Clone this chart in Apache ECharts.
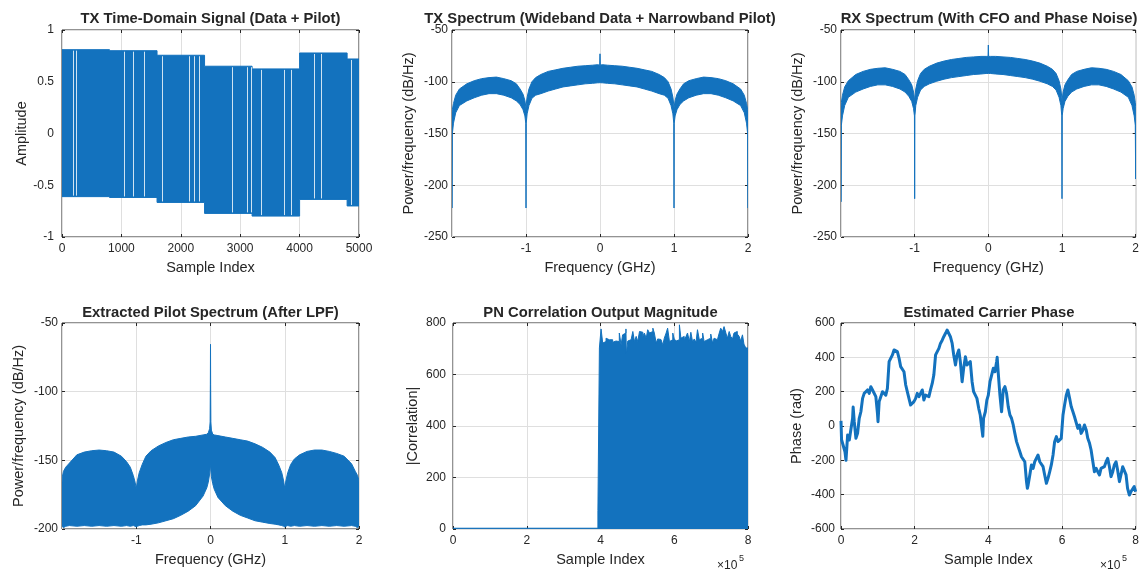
<!DOCTYPE html>
<html>
<head>
<meta charset="utf-8">
<script src="https://cdn.jsdelivr.net/npm/echarts@6/dist/echarts.min.js"></script>
<style>html,body{margin:0;padding:0;background:#fff}#chart{width:1142px;height:569px}</style>
</head>
<body>
<div id="chart"></div>
<script>
const BLUE = '#1372BE';
const INK = '#262626';
const GRIDC = '#dfdfdf';
const FONT = 'Liberation Sans, Arial, Helvetica, sans-serif';

// --- TX time-domain: per-symbol envelope (800-sample steps) ---
const txEdges = [0, 800, 1600, 2400, 3200, 4000, 4800, 5000];
const txTop = [0.81, 0.80, 0.756, 0.65, 0.624, 0.778, 0.72];
const txBottom = [-0.61, -0.618, -0.666, -0.772, -0.798, -0.637, -0.70];
const txGaps = [186, 242, 1046, 1198, 1378, 1682, 2132, 2227, 2306, 2857, 3121, 3183, 3352, 3740, 3853, 4246, 4364, 4871];

// --- TX / RX spectra envelopes (GHz, dB/Hz) ---
const specFreq = [-2, -1.995, -1.98, -1.95, -1.9, -1.8, -1.7, -1.6, -1.5, -1.4, -1.3, -1.2, -1.13, -1.08, -1.04, -1.015, -1.003, -1, -0.997, -0.985, -0.96, -0.92, -0.87, -0.8, -0.7, -0.6, -0.5, -0.4, -0.3, -0.2, -0.1, -0.03, -0.004,
  0, 0.004, 0.03, 0.1, 0.2, 0.3, 0.4, 0.5, 0.6, 0.7, 0.8, 0.87, 0.92, 0.96, 0.985, 0.997, 1, 1.003, 1.015, 1.04, 1.08, 1.13, 1.2, 1.3, 1.4, 1.5, 1.6, 1.7, 1.8, 1.9, 1.95, 1.98, 1.995, 2];
const txUpper = [-130, -127, -121, -113, -107, -102, -99, -97, -96, -95.5, -97, -99, -102, -107, -112, -118, -124, -126, -122, -115, -107, -100, -96, -93, -90, -88.5, -87, -86, -85, -84.5, -84, -83.5, -84,
  -73, -84, -83.5, -84, -84.5, -85, -86, -87, -88.5, -90, -93, -96, -100, -107, -115, -122, -126, -124, -118, -112, -107, -102, -99, -97, -95.5, -96, -97, -99, -102, -107, -113, -121, -127, -128];
const txLower = [-222, -150, -140, -130, -123, -118.5, -115.5, -113, -111.5, -111.5, -113, -115.5, -118.5, -122, -127, -133, -140, -222, -140, -131, -123, -116, -113, -111.5, -109, -107, -105, -104, -103, -102, -101.5, -101, -101,
  -100.5, -101, -101, -101.5, -102, -103, -104, -105, -107, -109, -111.5, -113, -116, -123, -131, -140, -222, -140, -133, -127, -122, -118.5, -115.5, -113, -111.5, -111.5, -113, -115.5, -118.5, -123, -130, -140, -150, -222];
const rxUpper = [-124, -120, -113, -105, -99, -93, -90, -88, -87, -86.5, -88, -90, -93, -98, -103, -110, -117, -119, -115, -107, -99, -92, -88, -85, -82, -80, -78.5, -77.5, -76.5, -76, -75.5, -75.5, -75.5,
  -64.5, -75.5, -75.5, -75.5, -76, -76.5, -77.5, -78.5, -80, -82, -85, -88, -92, -99, -107, -115, -119, -117, -110, -103, -98, -93, -90, -88, -86.5, -87, -88, -90, -93, -99, -105, -113, -120, -124];
const rxLower = [-216, -142, -133, -123, -115, -110, -107, -104.5, -103, -103, -104.5, -107, -110, -114, -119, -126, -133, -213, -133, -123, -115, -108, -104.5, -102, -99.5, -97.5, -96, -95, -94, -93, -92.5, -92, -92,
  -91.5, -92, -92, -92.5, -93, -94, -95, -96, -97.5, -99.5, -102, -104.5, -108, -115, -123, -133, -213, -133, -126, -119, -114, -110, -107, -104.5, -103, -103, -104.5, -107, -110, -115, -123, -133, -142, -194];

// --- Extracted pilot spectrum envelope ---
const pilotFreq = [-2, -1.995, -1.98, -1.95, -1.9, -1.8, -1.7, -1.6, -1.5, -1.4, -1.3, -1.2, -1.13, -1.08, -1.04, -1.015, -1, -0.985, -0.96, -0.92, -0.87, -0.8, -0.7, -0.6, -0.5, -0.4, -0.3, -0.2, -0.1, -0.05, -0.03, -0.012, -0.005, -0.002,
  0, 0.002, 0.005, 0.012, 0.03, 0.05, 0.1, 0.2, 0.3, 0.4, 0.5, 0.6, 0.7, 0.8, 0.87, 0.92, 0.96, 0.985, 1, 1.015, 1.04, 1.08, 1.13, 1.2, 1.3, 1.4, 1.5, 1.6, 1.7, 1.8, 1.9, 1.95, 1.98, 1.995, 2];
const pilotUpper = [-166, -162, -158, -155, -152, -146, -144, -143, -142.5, -143, -144, -147, -151, -155, -161, -166, -170.5, -165, -159, -153, -147, -143, -139.5, -137, -135, -134, -133, -132.5, -131.5, -131, -130, -127, -122, -95,
  -65.5, -95, -122, -128, -131, -131.5, -132, -133, -134, -135, -136, -138, -140.5, -144, -148, -153.5, -159, -165, -170.5, -165, -159, -153, -149, -146, -143.5, -142.5, -142.5, -143.5, -145, -147, -152.5, -158, -161, -164, -166];
const pilotLower = [-198, -198, -199, -198, -197.5, -198, -197.5, -198, -197.5, -198, -197.5, -198, -197.5, -198, -197.5, -198, -198.5, -198, -197.5, -197, -197, -196.5, -195.5, -194, -192.5, -190, -187, -183, -176, -170, -166, -160, -156, -154,
  -152, -154, -157, -162, -167, -171, -177, -183, -187, -190, -192, -194, -195, -196, -196.5, -197, -197.5, -198, -198.5, -198, -197.5, -198, -197.5, -198, -197.5, -198, -197.5, -198, -197.5, -198, -197.5, -198, -199, -198, -198];

// --- PN correlation magnitude (peak envelope) ---
const pnIdx = [0, 393000, 397000, 401500, 406000, 410500, 415000, 419600, 424000, 428600, 433000, 437700, 442000, 446800, 451000, 455800, 460000, 465000, 469000, 470000,
  474000, 478600, 483000, 487700, 492000, 496700, 501000, 505800, 510000, 514800, 519000, 524000, 528000, 533000, 537000, 542000, 546000, 551000, 555000, 560000,
  564000, 569000, 573000, 578000, 582000, 587000, 591000, 596000, 600000, 605000, 609000, 614000, 618000, 623000, 627000, 632000, 636000, 641000, 645000, 650000,
  654000, 659000, 663000, 668000, 672000, 677000, 681000, 686000, 690000, 695000, 699000, 704000, 708000, 713000, 717000, 722000, 726000, 731000, 735000, 740000,
  744000, 749000, 753000, 758000, 762000, 767000, 771000, 776000, 780000, 785000, 789000, 794000, 800000];
const pnMag = [3, 72, 703, 777, 722, 728, 741, 735, 741, 735, 725, 730, 725, 728, 761, 715, 754, 761, 777, 680,
  730, 735, 728, 767, 728, 748, 728, 767, 764, 748, 761, 741, 774, 761, 767, 780, 761, 722, 738, 736,
  735, 715, 741, 761, 780, 728, 735, 761, 738, 730, 735, 793, 741, 748, 735, 748, 761, 728, 764, 725,
  738, 725, 774, 735, 741, 761, 728, 735, 735, 741, 757, 722, 741, 735, 728, 761, 780, 767, 786, 761,
  741, 767, 748, 738, 761, 767, 757, 748, 730, 754, 718, 703, 703];

// --- Estimated carrier phase ---
const phIdx = [0, 1500, 4500, 10800, 13500, 18000, 22500, 27000, 31500, 33000, 36000, 40500, 45000, 49500, 54000, 58600, 63000, 67600, 72000, 76600,
  81000, 85600, 90000, 94600, 99000, 100500, 103600, 108000, 112600, 117000, 121600, 126000, 130600, 135000, 139600, 144000, 148600, 153000, 157700, 162000,
  166700, 171000, 175700, 180000, 184700, 189000, 193700, 198000, 202700, 207000, 211700, 216000, 220700, 225000, 229700, 234000, 238700, 243000, 247700, 252000,
  256800, 261000, 265800, 270000, 274800, 279000, 283800, 288000, 292800, 297000, 301800, 306000, 310800, 315000, 319800, 324000, 328800, 333000, 337800, 342000,
  346800, 351000, 355900, 360000, 364900, 369000, 373900, 378000, 382900, 385000, 387000, 391900, 396000, 400000, 404500, 409000, 413500, 418000, 422500, 424000,
  427000, 431500, 436000, 440500, 445000, 449500, 454000, 458600, 463000, 467600, 472000, 476600, 481000, 485600, 490000, 494600, 499000, 503600, 506000, 508000,
  512600, 517000, 521600, 526000, 530600, 535000, 539600, 544000, 548600, 553000, 557700, 562000, 566700, 571000, 575700, 580000, 584700, 589000, 593700, 598000,
  602700, 607000, 611700, 616000, 620700, 625000, 629700, 634000, 638700, 643000, 647700, 652000, 656800, 661000, 665800, 670000, 674800, 679000, 683800, 688000,
  692800, 697000, 701800, 706000, 710800, 715000, 719800, 724000, 728800, 733000, 737800, 742000, 746800, 751000, 755900, 760000, 764900, 769000, 773900, 778000,
  782900, 787000, 791900, 796000, 800000];
const phVal = [30, -80, -91, -150, -200, -52, -82, -72, 45, 110, 25, -72, -43, 45, 83, 161, 190, 180, 210, 190,
  229, 210, 210, 171, 74, 25, 142, 151, 200, 190, 180, 219, 375, 384, 414, 443, 452, 433, 394, 346,
  336, 316, 239, 200, 190, 122, 113, 142, 161, 190, 171, 190, 210, 151, 180, 190, 171, 210, 248, 297,
  414, 423, 452, 481, 500, 520, 540, 559, 550, 520, 481, 414, 355, 414, 443, 375, 258, 336, 404, 355,
  365, 375, 258, 200, 190, 161, 103, 64, -23, -60, 45, 83, 151, 180, 258, 297, 336, 316, 375, 400,
  307, 180, 83, 210, 229, 190, 113, 64, 45, 6, -43, -91, -120, -150, -179, -188, -208, -324, -363, -344,
  -285, -227, -247, -208, -188, -169, -208, -198, -237, -285, -334, -305, -266, -227, -169, -91, -62, -91, -101, -72,
  64, 122, 180, 210, 161, 113, 83, 54, 45, -14, 6, -43, -23, 6, -23, -72, -101, -140, -208, -266,
  -247, -266, -285, -247, -256, -237, -208, -188, -237, -295, -266, -227, -208, -256, -324, -285, -237, -227, -285, -363,
  -402, -383, -373, -353, -383];

const grids = [
  { left: 62, top: 30, width: 297, height: 207 },
  { left: 452, top: 30, width: 296, height: 207 },
  { left: 841, top: 30, width: 296, height: 207 },
  { left: 62, top: 323, width: 297, height: 206 },
  { left: 453, top: 323, width: 295, height: 206 },
  { left: 841, top: 323, width: 296, height: 206 }
].map(g => Object.assign(g, { show: true, borderColor: INK, borderWidth: 1, backgroundColor: '#fff' }));

const tick = { inside: true, length: 3, lineStyle: { color: INK, width: 1 } };
const noLine = { show: false, onZero: false };
const nameStyle = { color: INK, fontSize: 14.5, fontFamily: FONT };

function xAxes(i, min, max, interval, name, opts) {
  opts = opts || {};
  return [{
    gridIndex: i, type: 'value', min, max, interval, position: 'bottom',
    name, nameLocation: 'middle', nameGap: 23, nameTextStyle: nameStyle,
    axisLine: noLine, axisTick: tick,
    axisLabel: { color: INK, fontSize: 12, fontFamily: FONT, margin: 6, formatter: opts.fmt || (v => String(v)), showMinLabel: !opts.hideMin, showMaxLabel: true, hideOverlap: false },
    splitLine: { show: true, lineStyle: { color: GRIDC, width: 1 } }
  }, {
    gridIndex: i, type: 'value', min, max, interval, position: 'top',
    axisLine: noLine, axisTick: tick, axisLabel: { show: false }, splitLine: { show: false }
  }];
}
function yAxes(i, min, max, interval, name, gap, margin) {
  return [{
    gridIndex: i, type: 'value', min, max, interval, position: 'left',
    name, nameLocation: 'middle', nameGap: gap, nameTextStyle: nameStyle,
    axisLine: noLine, axisTick: tick,
    axisLabel: { color: INK, fontSize: 12, fontFamily: FONT, margin, formatter: v => String(v), showMinLabel: true, showMaxLabel: true },
    splitLine: { show: true, lineStyle: { color: GRIDC, width: 1 } }
  }, {
    gridIndex: i, type: 'value', min, max, interval, position: 'right',
    axisLine: noLine, axisTick: tick, axisLabel: { show: false }, splitLine: { show: false }
  }];
}

// filled envelope polygon between lo and hi
function bandSeries(i, xs, lo, hi) {
  return {
    type: 'custom', coordinateSystem: 'cartesian2d', xAxisIndex: i * 2, yAxisIndex: i * 2,
    clip: true, silent: true, z: 3,
    data: xs.map((x, k) => [x, lo[k], hi[k]]),
    encode: { x: 0, y: [1, 2] },
    renderItem(params, api) {
      if (params.dataIndex !== 0) return null;
      const top = xs.map((x, k) => api.coord([x, hi[k]]));
      const bot = xs.map((x, k) => api.coord([x, lo[k]])).reverse();
      return { type: 'polygon', shape: { points: top.concat(bot) }, style: { fill: BLUE, stroke: BLUE, lineWidth: 1 } };
    }
  };
}

// stepped TX envelope
const txX = [], txHi = [], txLo = [];
for (let k = 0; k < txTop.length; k++) {
  txX.push(txEdges[k], txEdges[k + 1]);
  txHi.push(txTop[k], txTop[k]);
  txLo.push(txBottom[k], txBottom[k]);
}

const sci = v => String(v / 1e5);

const titles = [
  ['TX Time-Domain Signal (Data + Pilot)', 210.5, 11],
  ['TX Spectrum (Wideband Data + Narrowband Pilot)', 600, 11],
  ['RX Spectrum (With CFO and Phase Noise)', 989, 11],
  ['Extracted Pilot Spectrum (After LPF)', 210.5, 305],
  ['PN Correlation Output Magnitude', 600.5, 305],
  ['Estimated Carrier Phase', 989, 305]
].map(t => ({
  text: t[0], left: t[1], top: t[2], textAlign: 'center', padding: 0,
  textStyle: { color: INK, fontSize: 14.8, fontWeight: 'bold', fontFamily: FONT }
}));

const option = {
  animation: false,
  backgroundColor: '#fff',
  title: titles,
  grid: grids,
  xAxis: [].concat(
    xAxes(0, 0, 5000, 1000, 'Sample Index'),
    xAxes(1, -2, 2, 1, 'Frequency (GHz)', { hideMin: true }),
    xAxes(2, -2, 2, 1, 'Frequency (GHz)', { hideMin: true }),
    xAxes(3, -2, 2, 1, 'Frequency (GHz)', { hideMin: true }),
    xAxes(4, 0, 800000, 200000, 'Sample Index', { fmt: sci }),
    xAxes(5, 0, 800000, 200000, 'Sample Index', { fmt: sci })
  ),
  yAxis: [].concat(
    yAxes(0, -1, 1, 0.5, 'Amplitude', 33, 8),
    yAxes(1, -250, -50, 50, 'Power/frequency (dB/Hz)', 36, 4),
    yAxes(2, -250, -50, 50, 'Power/frequency (dB/Hz)', 36, 4),
    yAxes(3, -200, -50, 50, 'Power/frequency (dB/Hz)', 36, 4),
    yAxes(4, 0, 800, 200, '|Correlation|', 33, 7),
    yAxes(5, -600, 600, 200, 'Phase (rad)', 37, 6)
  ),
  graphic: [
    { type: 'text', left: 717, top: 560, style: { text: '×10', fill: INK, font: '12px ' + FONT } },
    { type: 'text', left: 739, top: 554, style: { text: '5', fill: INK, font: '9px ' + FONT } },
    { type: 'text', left: 1100, top: 560, style: { text: '×10', fill: INK, font: '12px ' + FONT } },
    { type: 'text', left: 1122, top: 554, style: { text: '5', fill: INK, font: '9px ' + FONT } }
  ],
  series: [
    bandSeries(0, txX, txLo, txHi),
    {
      type: 'custom', coordinateSystem: 'cartesian2d', xAxisIndex: 0, yAxisIndex: 0, clip: true, silent: true, z: 4,
      data: txGaps.map(g => [g, 0]), encode: { x: 0, y: 1 },
      renderItem(params, api) {
        const g = api.value(0);
        let k = 0;
        while (k < txTop.length - 1 && g >= txEdges[k + 1]) k++;
        const p1 = api.coord([g, txTop[k]]), p2 = api.coord([g, txBottom[k]]);
        const x = Math.round(p1[0]) + 0.5;
        return { type: 'line', shape: { x1: x, y1: p1[1] + 1, x2: x, y2: p2[1] - 1 }, style: { stroke: 'rgba(255,255,255,0.8)', lineWidth: 1 } };
      }
    },
    bandSeries(1, specFreq, txLower, txUpper),
    bandSeries(2, specFreq, rxLower, rxUpper),
    bandSeries(3, pilotFreq, pilotLower, pilotUpper),
    {
      type: 'line', xAxisIndex: 8, yAxisIndex: 8, step: 'end', symbol: 'none', silent: true,
      data: pnIdx.map((x, k) => [x, pnMag[k]]),
      lineStyle: { color: BLUE, width: 1 }, areaStyle: { color: BLUE, opacity: 1 }
    },
    {
      type: 'line', xAxisIndex: 10, yAxisIndex: 10, symbol: 'none', silent: true,
      data: phIdx.map((x, k) => [x, phVal[k]]),
      lineStyle: { color: BLUE, width: 3, join: 'round' }
    }
  ]
};

const chart = echarts.init(document.getElementById('chart'), null, { renderer: 'canvas' });
chart.setOption(option);
</script>
</body>
</html>
